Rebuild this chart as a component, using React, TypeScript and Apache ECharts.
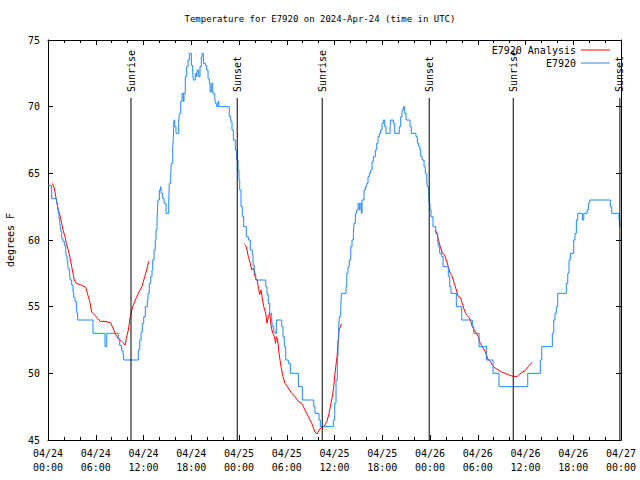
import React, { useEffect, useRef } from 'react';
import * as echarts from 'echarts';

const TITLE = 'Temperature for E7920 on 2024-Apr-24 (time in UTC)';
const Y_NAME = 'degrees F';
const FONT = '"DejaVu Sans Mono", monospace';

const xTickLabels = [
  '04/24\n00:00', '04/24\n06:00', '04/24\n12:00', '04/24\n18:00',
  '04/25\n00:00', '04/25\n06:00', '04/25\n12:00', '04/25\n18:00',
  '04/26\n00:00', '04/26\n06:00', '04/26\n12:00', '04/26\n18:00',
  '04/27\n00:00',
];

const sunEventHours = [10.43, 23.78, 34.46, 47.9, 58.46, 71.86];
const sunEventLabels = ['Sunrise', 'Sunset', 'Sunrise', 'Sunset', 'Sunrise', 'Sunset'];

// hours since 04/24 00:00 UTC, temperature (F)
const e7920: [number, number][] = [
  [0, 64.1], [0.46, 63.1], [1.07, 62.8], [1.19, 62.4], [1.29, 62.0], [1.38, 61.6], [1.47, 61.3], [1.55, 61.0],
  [1.63, 60.6], [1.72, 60.1], [1.88, 59.9], [2.05, 59.6], [2.22, 59.2], [2.30, 58.8], [2.39, 58.5], [2.48, 58.1],
  [2.55, 57.8], [2.73, 57.3], [2.80, 57.0], [2.98, 56.6], [3.14, 56.1], [3.23, 55.7], [3.39, 55.4], [3.56, 55.0],
  [3.64, 54.5], [3.73, 54.0], [5.65, 53.0], [7.16, 52.0], [7.38, 53.0], [8.83, 52.6], [9.01, 52.1], [9.26, 51.7],
  [9.42, 51.4], [9.51, 51.0], [11.35, 51.75], [11.53, 52.5], [11.69, 53.1], [11.85, 53.75], [12.03, 54.25],
  [12.23, 55.0], [12.48, 55.5], [12.57, 56.0], [12.73, 56.75], [12.91, 57.25], [13.07, 57.75], [13.16, 58.5],
  [13.32, 59.25], [13.48, 60.0], [13.57, 60.75], [13.70, 61.5], [13.76, 62.25], [13.82, 63.0], [13.99, 63.75],
  [14.16, 64.0], [14.24, 63.5], [14.41, 63.1], [14.58, 62.75], [14.83, 62.0], [15.17, 62.75], [15.24, 64.25],
  [15.42, 65.0], [15.49, 65.75], [15.67, 66.75], [15.75, 67.75], [15.83, 69.0], [15.92, 68.5], [16.08, 68.0],
  [16.42, 68.75], [16.50, 69.5], [16.68, 70.4], [16.84, 71.0], [17.00, 70.4], [17.09, 71.0], [17.25, 72.25],
  [17.43, 73.0], [17.59, 73.5], [17.76, 74.0], [18.01, 73.1], [18.18, 72.5], [18.26, 72.0], [18.51, 72.5],
  [18.69, 72.25], [18.76, 72.75], [18.94, 72.25], [19.10, 73.0], [19.26, 73.75], [19.35, 74.0], [19.52, 73.25],
  [19.77, 73.1], [19.94, 72.75], [20.11, 72.1], [20.27, 71.75], [20.36, 71.1], [20.52, 71.75], [20.70, 71.0],
  [20.95, 70.75], [21.02, 70.25], [21.20, 70.0], [21.36, 70.4], [21.45, 70.0], [22.78, 69.25], [22.96, 68.9],
  [23.12, 68.25], [23.29, 67.5], [23.54, 66.75], [23.71, 66.0], [23.88, 65.25], [24.00, 64.5], [24.09, 63.75],
  [24.25, 62.5], [24.42, 61.75], [24.59, 61.0], [24.92, 60.25], [25.17, 60.0], [25.42, 59.25], [25.67, 58.9],
  [25.76, 58.1], [25.92, 57.5], [26.10, 57.0], [27.36, 56.5], [27.52, 55.9], [27.68, 55.25], [27.86, 54.5],
  [28.11, 54.0], [28.19, 53.5], [28.36, 53.1], [28.53, 53.0], [28.69, 54.0], [29.37, 53.5], [29.53, 52.75],
  [29.69, 52.0], [29.87, 51.0], [30.20, 50.75], [30.45, 50.0], [31.46, 49.0], [31.96, 48.0], [33.39, 47.5],
  [33.55, 47.0], [34.05, 46.5], [34.22, 46.0], [35.85, 46.5], [36.03, 47.75], [36.19, 49.5], [36.35, 51.25],
  [36.44, 52.5], [36.53, 53.5], [36.61, 54.25], [36.78, 54.75], [36.86, 56.0], [37.45, 56.5], [37.54, 57.5],
  [37.70, 58.0], [37.86, 58.5], [38.04, 59.5], [38.20, 60.0], [38.37, 60.5], [38.45, 61.25], [38.62, 62.0],
  [38.79, 62.25], [38.96, 62.75], [39.12, 62.25], [39.21, 62.75], [39.37, 62.0], [39.46, 63.0], [39.71, 63.75],
  [39.87, 64.0], [40.05, 64.25], [40.21, 64.75], [40.38, 65.0], [40.55, 65.25], [40.72, 65.9], [40.88, 66.25],
  [41.13, 66.75], [41.31, 67.25], [41.47, 67.75], [41.63, 68.0], [41.81, 68.25], [41.97, 68.75], [42.14, 69.0],
  [42.31, 68.5], [42.47, 68.0], [42.98, 68.5], [43.06, 69.0], [43.39, 68.75], [43.57, 68.0], [44.14, 68.5],
  [44.32, 69.25], [44.48, 69.75], [44.65, 70.0], [44.82, 69.5], [44.99, 69.0], [45.49, 68.5], [45.65, 68.0],
  [46.24, 67.75], [46.41, 67.25], [46.58, 67.0], [46.74, 66.75], [46.83, 66.25], [47.00, 66.0], [47.25, 65.5],
  [47.41, 65.0], [47.59, 64.5], [47.66, 64.0], [47.84, 63.5], [47.91, 62.75], [48.00, 62.25], [48.13, 61.75],
  [48.38, 61.0], [48.72, 60.5], [48.97, 60.0], [49.05, 59.5], [49.22, 59.0], [49.47, 58.75], [49.64, 58.0],
  [50.30, 57.25], [50.48, 56.5], [50.64, 56.0], [51.31, 55.0], [51.99, 54.0], [53.32, 53.5], [53.50, 53.0],
  [54.16, 52.0], [55.08, 51.0], [55.92, 50.0], [56.67, 49.0], [60.28, 50.0], [61.86, 51.0], [62.04, 52.0],
  [63.37, 53.0], [63.55, 54.0], [63.71, 54.5], [63.87, 55.0], [64.05, 56.0], [65.13, 56.75], [65.31, 57.5],
  [65.47, 58.5], [65.63, 59.0], [66.06, 60.0], [66.22, 60.5], [66.39, 61.5], [66.56, 62.0], [67.14, 61.5],
  [67.32, 62.0], [67.73, 62.25], [67.90, 62.75], [68.07, 63.0], [70.66, 62.5], [70.84, 62.0], [71.75, 61.5],
  [71.84, 61.0], [71.94, 61.0],
];

const analysisDay1: [number, number][] = [
  [0.54, 64.25], [0.79, 63.9], [0.97, 63.25], [1.13, 62.75], [1.29, 62.25], [1.55, 61.75], [1.72, 61.25],
  [1.88, 60.75], [2.14, 60.25], [2.30, 59.75], [2.55, 59.25], [2.73, 58.75], [2.98, 58.0], [3.14, 57.5],
  [3.30, 57.0], [3.56, 56.75], [4.23, 56.6], [4.74, 56.45], [4.99, 55.9], [5.24, 55.4], [5.49, 54.6],
  [5.82, 54.4], [6.25, 54.1], [6.57, 53.9], [7.16, 53.9], [7.83, 53.8], [8.17, 53.4], [8.42, 53.0],
  [8.83, 52.6], [9.26, 52.4], [9.51, 52.25], [9.68, 52.1], [9.84, 52.6], [10.09, 53.25], [10.34, 54.25],
  [10.64, 55.0], [11.15, 55.75], [11.56, 56.25], [11.81, 56.5], [12.15, 57.25], [12.40, 57.75], [12.65, 58.4],
];

const analysisDay2: [number, number][] = [
  [24.67, 59.7], [24.84, 59.6], [25.01, 59.25], [25.17, 58.75], [25.42, 58.25], [25.60, 57.75], [25.85, 57.9],
  [26.01, 57.25], [26.26, 57.0], [26.43, 56.5], [26.60, 55.9], [26.77, 56.25], [26.93, 55.6], [27.11, 55.0],
  [27.36, 54.5], [27.52, 53.75], [27.68, 54.25], [27.86, 54.5], [28.02, 53.6], [28.19, 53.1], [28.44, 52.75],
  [28.61, 52.25], [28.69, 52.75], [28.86, 52.5], [29.03, 51.5], [29.28, 50.5], [29.53, 49.75], [29.78, 49.25],
  [30.20, 48.9], [30.62, 48.5], [31.04, 48.25], [31.45, 47.9], [31.88, 47.75], [32.29, 47.25], [32.71, 46.75],
  [33.14, 46.25], [33.55, 45.6], [33.80, 45.45], [34.05, 45.75], [34.39, 45.95], [34.72, 46.05], [35.06, 46.4],
  [35.31, 47.0], [35.56, 47.75], [35.73, 48.25], [35.90, 49.0], [36.06, 50.0], [36.32, 51.25], [36.48, 52.5],
  [36.57, 53.25], [36.86, 53.7],
];

const analysisDay3: [number, number][] = [
  [48.63, 60.75], [48.88, 60.5], [49.05, 60.0], [49.30, 59.5], [49.55, 59.0], [49.80, 58.9], [50.05, 58.5],
  [50.30, 58.0], [50.55, 57.5], [50.80, 57.25], [51.05, 56.75], [51.31, 56.25], [51.56, 55.75], [51.81, 55.7],
  [52.06, 55.25], [52.31, 54.75], [52.56, 54.4], [52.82, 54.25], [53.07, 54.0], [53.32, 53.5], [53.57, 53.25],
  [53.82, 53.0], [54.07, 52.75], [54.32, 52.25], [54.57, 52.0], [54.82, 51.75], [55.08, 51.4], [55.33, 51.0],
  [55.58, 50.9], [55.83, 50.6], [56.17, 50.4], [56.59, 50.25], [57.01, 50.1], [57.43, 50.0], [57.84, 49.9],
  [58.27, 49.8], [58.68, 49.75], [58.94, 49.75], [59.19, 49.9], [59.53, 50.05], [59.94, 50.2], [60.36, 50.5],
  [60.61, 50.7], [60.86, 50.8],
];

const Y_MIN = 45;
const Y_MAX = 75;

export default function App() {
  const ref = useRef<HTMLDivElement>(null);

  useEffect(() => {
    if (!ref.current) return;
    const chart = echarts.init(ref.current, null, { renderer: 'svg' });

    const analysisData: any[] = [
      ...analysisDay1,
      [18, null],
      ...analysisDay2,
      [42, null],
      ...analysisDay3,
    ];

    const axisBase = {
      type: 'value' as const,
      axisLine: { show: true, onZero: false, lineStyle: { color: '#000', width: 1 } },
      axisTick: { show: true, inside: true, length: 5, lineStyle: { color: '#000' } },
      splitLine: { show: false },
    };

    chart.setOption({
      animation: false,
      backgroundColor: '#fff',
      textStyle: { fontFamily: FONT, color: '#000' },
      title: {
        text: TITLE,
        left: 'center',
        top: 9,
        textStyle: { fontFamily: FONT, fontSize: 9, fontWeight: 'normal', color: '#000' },
      },
      legend: {
        orient: 'vertical',
        right: 25,
        top: 39,
        align: 'right',
        icon: 'rect',
        itemWidth: 29,
        itemHeight: 1,
        itemGap: 1,
        textStyle: { fontFamily: FONT, fontSize: 10, color: '#000', lineHeight: 12 },
        data: ['E7920 Analysis', 'E7920'],
      },
      grid: { left: 48, right: 19, top: 40, bottom: 40, containLabel: false, outerBoundsMode: 'none' },
      xAxis: [
        {
          ...axisBase,
          position: 'bottom',
          min: 0,
          max: 72,
          interval: 6,
          minorTick: { show: true, splitNumber: 3, length: 3, lineStyle: { color: '#000' } },
          minorSplitLine: { show: false },
          axisLabel: {
            formatter: (v: number) => xTickLabels[Math.round(v / 6)] ?? '',
            fontFamily: FONT,
            fontSize: 10,
            color: '#000',
            lineHeight: 14,
            margin: 6,
          },
        },
        {
          ...axisBase,
          position: 'top',
          min: 0,
          max: 72,
          interval: 6,
          minorTick: { show: true, splitNumber: 3, length: 3, lineStyle: { color: '#000' } },
          minorSplitLine: { show: false },
          axisLabel: { show: false },
        },
      ],
      yAxis: [
        {
          ...axisBase,
          position: 'left',
          min: Y_MIN,
          max: Y_MAX,
          interval: 5,
          name: Y_NAME,
          nameLocation: 'middle',
          nameGap: 33,
          nameTextStyle: { fontFamily: FONT, fontSize: 10, color: '#000' },
          axisLabel: { fontFamily: FONT, fontSize: 10, color: '#000', margin: 8 },
        },
        {
          ...axisBase,
          position: 'right',
          min: Y_MIN,
          max: Y_MAX,
          interval: 5,
          axisLabel: { show: false },
        },
      ],
      series: [
        {
          name: 'E7920 Analysis',
          type: 'line',
          xAxisIndex: 0,
          yAxisIndex: 0,
          data: analysisData,
          symbol: 'none',
          showSymbol: false,
          connectNulls: false,
          lineStyle: { color: '#ff0000', width: 1 },
          itemStyle: { color: '#ff0000' },
          z: 3,
        },
        {
          name: 'E7920',
          type: 'line',
          xAxisIndex: 0,
          yAxisIndex: 0,
          data: e7920,
          step: 'end',
          symbol: 'none',
          showSymbol: false,
          lineStyle: { color: '#1e88ff', width: 1 },
          itemStyle: { color: '#1e88ff' },
          z: 4,
        },
        {
          name: 'sun',
          type: 'custom',
          xAxisIndex: 0,
          yAxisIndex: 0,
          clip: false,
          silent: true,
          z: 5,
          data: sunEventHours.map((h) => [h, Y_MIN]),
          renderItem: (params: any, api: any) => {
            const h = api.value(0);
            const bottom = api.coord([h, Y_MIN]);
            const top = api.coord([h, Y_MAX]);
            const yTop = top[1] + 58;
            return {
              type: 'group',
              children: [
                {
                  type: 'line',
                  shape: { x1: bottom[0], y1: bottom[1], x2: bottom[0], y2: yTop },
                  style: { stroke: '#000', lineWidth: 1 },
                },
                {
                  type: 'text',
                  x: bottom[0],
                  y: yTop - 6,
                  rotation: Math.PI / 2,
                  style: {
                    text: sunEventLabels[params.dataIndex],
                    align: 'left',
                    verticalAlign: 'middle',
                    font: `10px ${FONT}`,
                    fill: '#000',
                  },
                },
              ],
            };
          },
        },
      ],
    });

    return () => chart.dispose();
  }, []);

  return <div ref={ref} style={{ width: 640, height: 480, position: 'absolute', left: 0, top: 0 }} />;
}
